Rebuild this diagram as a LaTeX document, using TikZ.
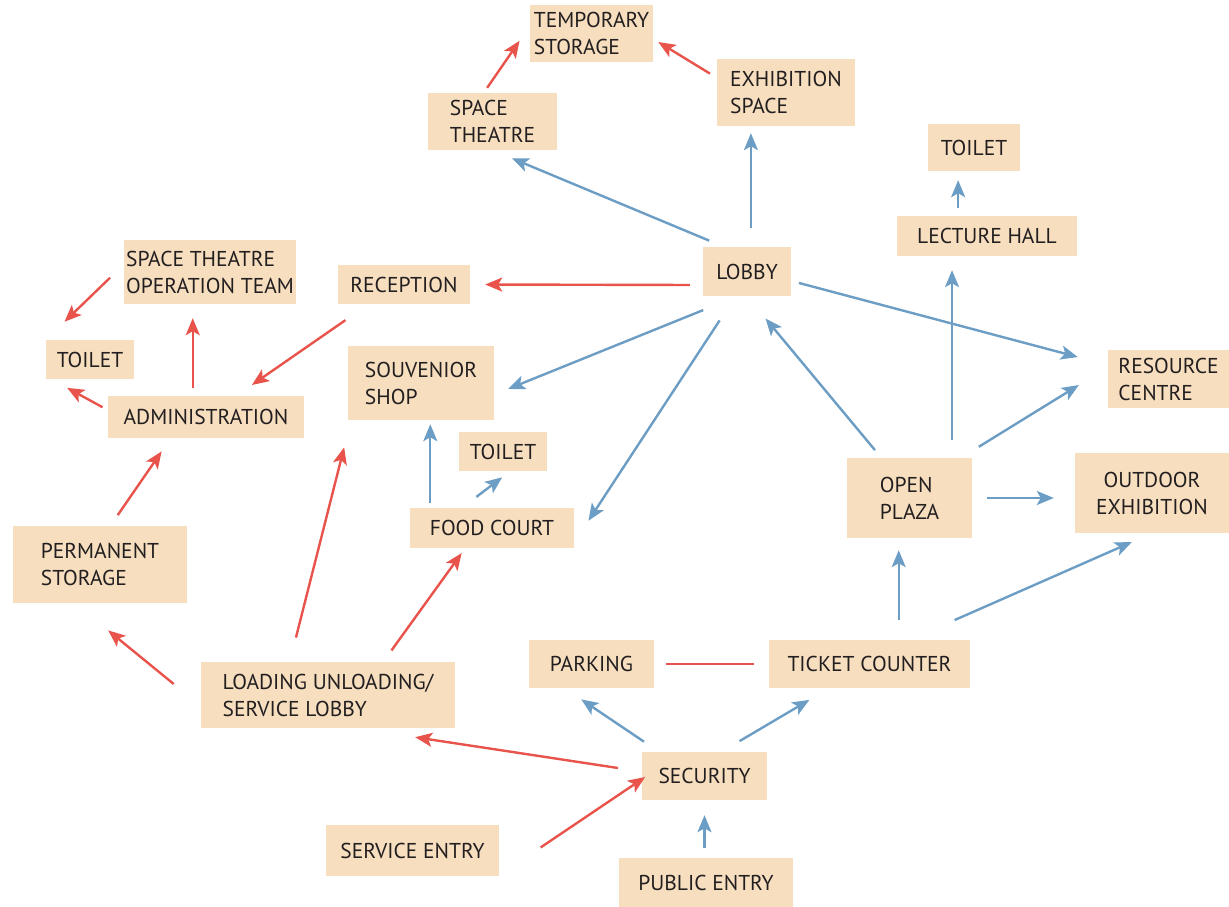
\documentclass[tikz,border=0pt]{standalone}
\usepackage{fontspec}
\setmainfont{PT Sans}
\usepackage{tikz}
\usetikzlibrary{arrows.meta}
\definecolor{boxfill}{RGB}{246,222,191}
\definecolor{arrred}{RGB}{232,84,76}
\definecolor{arrblue}{RGB}{108,157,196}
\definecolor{txt}{RGB}{35,31,32}
\tikzset{
  room/.style={fill=boxfill, text=txt, align=left, inner sep=0pt,
    font=\fontsize{21.5}{27}\selectfont},
  redlink/.style={every edge/.style={draw=arrred, line width=2.4pt,
    -{Stealth[length=17pt,width=14pt,inset=4pt]}}},
  bluelink/.style={every edge/.style={draw=arrblue, line width=2.4pt,
    -{Stealth[length=17pt,width=14pt,inset=4pt]}}}
}

\begin{document}
\begin{tikzpicture}[x=1pt,y=-1pt]
\useasboundingbox (0,0) rectangle (1229,907);
% rooms
\node[room, minimum width=123pt, minimum height=57pt] (tmpstore) at (591.5,33.5) {TEMPORARY\\STORAGE};
\node[room, minimum width=129pt, minimum height=57pt] (theatre) at (492.5,121.5) {SPACE\\THEATRE};
\node[room, minimum width=138pt, minimum height=67pt] (exhib) at (786,92.5) {EXHIBITION\\SPACE};
\node[room, minimum width=92pt, minimum height=47pt] (toiletR) at (974,147.5) {TOILET};
\node[room, minimum width=180pt, minimum height=40pt] (lecture) at (987,236) {LECTURE HALL};
\node[room, minimum width=88pt, minimum height=49pt] (lobby) at (747,271.5) {LOBBY};
\node[room, minimum width=172pt, minimum height=64pt] (opteam) at (210,272) {SPACE THEATRE\\OPERATION TEAM};
\node[room, minimum width=132pt, minimum height=39pt] (recep) at (404,284.5) {RECEPTION};
\node[room, minimum width=88pt, minimum height=39pt] (toiletL) at (90,359.5) {TOILET};
\node[room, minimum width=196pt, minimum height=42pt] (admin) at (206,417) {ADMINISTRATION};
\node[room, minimum width=146pt, minimum height=74pt] (souv) at (421,383) {SOUVENIOR\\SHOP};
\node[room, minimum width=121pt, minimum height=58pt] (resource) at (1168.5,379) {RESOURCE\\CENTRE};
\node[room, minimum width=88pt, minimum height=39pt] (toiletF) at (503,451.5) {TOILET};
\node[room, minimum width=164pt, minimum height=40pt] (food) at (492,528) {FOOD COURT};
\node[room, minimum width=125pt, minimum height=80pt] (plaza) at (909.5,498) {OPEN\\PLAZA};
\node[room, align=center, minimum width=154pt, minimum height=80pt] (outdoor) at (1152,493) {OUTDOOR\\EXHIBITION};
\node[room, minimum width=174pt, minimum height=77pt] (permstore) at (100,564.5) {PERMANENT\\STORAGE};
\node[room, minimum width=125pt, minimum height=48pt] (parking) at (591.5,664) {PARKING};
\node[room, minimum width=201pt, minimum height=48pt] (ticket) at (869.5,664) {TICKET COUNTER};
\node[room, minimum width=254pt, minimum height=66pt] (loading) at (328,695) {LOADING UNLOADING/\\SERVICE LOBBY};
\node[room, minimum width=125pt, minimum height=48pt] (security) at (704.5,776) {SECURITY};
\node[room, minimum width=173pt, minimum height=51pt] (service) at (412.5,850.5) {SERVICE ENTRY};
\node[room, minimum width=174pt, minimum height=49pt] (public) at (706,882.5) {PUBLIC ENTRY};

% service routes
\path[redlink]
  (theatre.107) edge[shorten <=6pt, shorten >=18pt] (tmpstore.173)
  (exhib.168) edge[shorten <=8pt, shorten >=6pt] (tmpstore.-5)
  (lobby.197) edge[shorten <=13pt, shorten >=15pt] (recep.east)
  (recep.209) edge[shorten <=28pt, shorten >=19pt] (admin.35)
  (opteam.175) edge[shorten <=19pt, shorten >=26pt] (toiletL.north west)
  (admin.122) edge[shorten <=8pt, shorten >=14pt] (admin.122 |- opteam.south)
  (admin.176) edge[shorten <=6pt, shorten >=18pt] (toiletL.207)
  (permstore.75) edge[shorten <=13pt, shorten >=16pt] (admin.211)
  (loading.185) edge[shorten <=35pt, shorten >=43pt] (permstore.237)
  (loading.139) edge[shorten <=25pt, shorten >=28pt] (souv.208)
  (loading.31) edge[shorten <=14pt, shorten >=6pt] (food.217)
  (security.176) edge[shorten <=24pt, shorten >=60pt] (loading.-50)
  (service.-16) edge[shorten <=50pt, shorten >=-4pt] (security.183)
  (parking.east) edge[-, shorten <=12pt, shorten >=15pt] (ticket.west);

% visitor routes
\path[bluelink]
  (lobby.133) edge[shorten <=16pt, shorten >=21pt] (theatre.south)
  (lobby.81) edge[shorten <=19pt, shorten >=7pt] (lobby.81 |- exhib.south)
  (lobby.-12) edge[shorten <=8pt, shorten >=31pt] (resource.167)
  (lobby.249) edge[shorten <=37pt, shorten >=15pt] (souv.-9)
  (lobby.245) edge[shorten <=29pt, shorten >=26pt] (food.-10)
  (plaza.125) edge[shorten <=10pt, shorten >=29pt] (lobby.south)
  (lecture.145) edge[shorten <=8pt, shorten >=9pt] (lecture.145 |- toiletR.south)
  (lecture.210 |- plaza.north) edge[shorten <=18pt, shorten >=14pt] (lecture.210)
  (plaza.38) edge[shorten <=21pt, shorten >=34pt] (resource.169)
  (plaza.east) edge[shorten <=15pt, shorten >=21pt] (plaza.east -| outdoor.west)
  (plaza.255 |- ticket.north) edge[shorten <=20pt, shorten >=12pt] (plaza.255)
  (ticket.31) edge[shorten <=49pt, shorten >=22pt] (outdoor.south)
  (souv.-76 |- food.north) edge[shorten <=5pt, shorten >=4pt] (souv.-76)
  (food.146) edge[shorten <=18pt, shorten >=10pt] (toiletF.-70)
  (security.152) edge[shorten <=18pt, shorten >=20pt] (parking.222)
  (security.55) edge[shorten <=21pt, shorten >=23pt] (ticket.211)
  (security.south |- public.north) edge[shorten <=10pt, shorten >=15pt] (security.south);
\end{tikzpicture}
\end{document}
